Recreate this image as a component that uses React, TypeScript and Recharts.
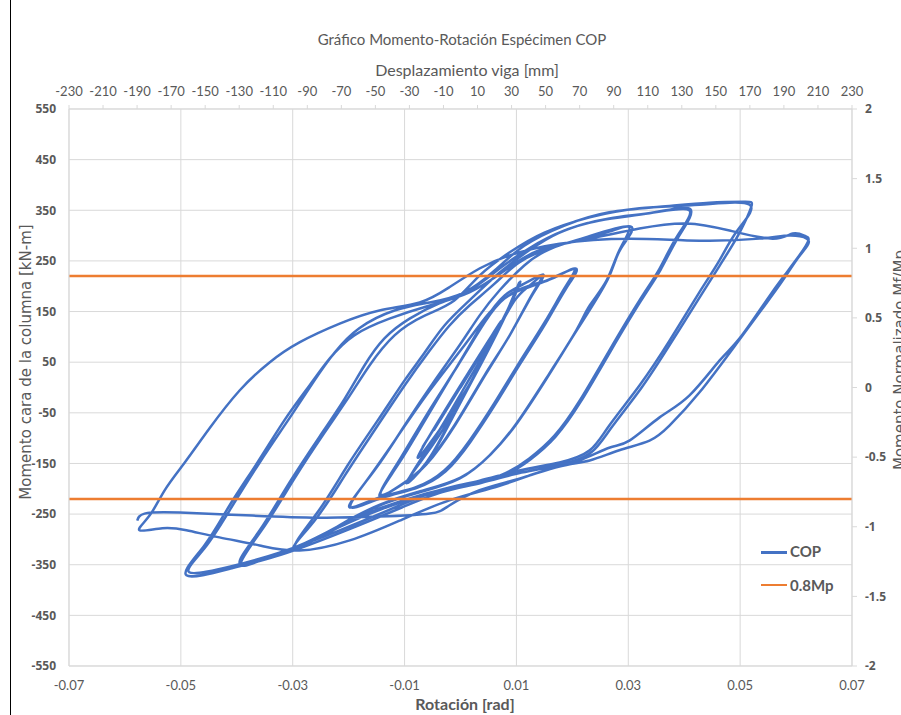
import { LineChart, Line, XAxis, YAxis, CartesianGrid } from "recharts";

// ticks
const rotTicks = [-0.07, -0.05, -0.03, -0.01, 0.01, 0.03, 0.05, 0.07];
const mmTicks = [-230, -210, -190, -170, -150, -130, -110, -90, -70, -50, -30, -10, 10, 30, 50, 70, 90, 110, 130, 150, 170, 190, 210, 230];
const momentTicks = [-550, -450, -350, -250, -150, -50, 50, 150, 250, 350, 450, 550];
const normTicks = [-2, -1.5, -1, -0.5, 0, 0.5, 1, 1.5, 2];

// COP test, [rotation rad, moment kN-m]
const preCycles: [number, number][] = [[0, 0], [0.0052, 93], [-0.0046, -81], [0.0054, 97], [-0.0047, -83], [0.0071, 128], [-0.0068, -118], [0.0072, 130], [-0.0069, -121]];
const loop1a: [number, number][] = [[-0.0002, -26], [0.0052, 83], [0.0088, 162], [0.0105, 207], [0.0082, 148], [0.0038, 49], [-0.0016, -61], [-0.0061, -148], [-0.0097, -188]];
const loop1b: [number, number][] = [[-0.0052, -117], [0.0002, -22], [0.0055, 87], [0.0089, 164], [0.0107, 209], [0.0084, 150], [0.0039, 51], [-0.0014, -59], [-0.0059, -146], [-0.0095, -186]];
const loop2a: [number, number][] = [[-0.0046, -99], [0.0007, 0], [0.0061, 103], [0.0097, 172], [0.0123, 201], [0.0147, 221], [0.0127, 182], [0.0088, 103], [0.0043, 24], [-0.0011, -75], [-0.0064, -154], [-0.0109, -194], [-0.0145, -213]];
const loop2b: [number, number][] = [[-0.0109, -148], [-0.0055, -49], [-0.0002, 49], [0.0043, 132], [0.0079, 182], [0.0114, 205], [0.0148, 223], [0.0129, 184], [0.0089, 105], [0.0045, 26], [-0.0009, -73], [-0.0061, -152], [-0.0105, -192], [-0.0143, -211]];
const loop3a: [number, number][] = [[-0.0113, -150], [-0.0059, -51], [-0.0005, 43], [0.0043, 128], [0.0079, 176], [0.0123, 201], [0.0168, 217], [0.0204, 235], [0.0186, 196], [0.015, 128], [0.0105, 49], [0.0061, -30], [0.0016, -105], [-0.0029, -164], [-0.0082, -198], [-0.0145, -217], [-0.0198, -237]];
const loop3b: [number, number][] = [[-0.0172, -190], [-0.0114, -99], [-0.0055, -6], [0.0004, 79], [0.0052, 148], [0.0097, 188], [0.015, 209], [0.0206, 235], [0.0188, 194], [0.0152, 126], [0.0107, 47], [0.0063, -32], [0.0018, -107], [-0.0027, -166], [-0.008, -199], [-0.0143, -219], [-0.0197, -235]];
const loop4a: [number, number][] = [[-0.0154, -164], [-0.01, -75], [-0.0046, 14], [-0.0002, 83], [0.0034, 142], [0.007, 192], [0.0114, 241], [0.0159, 273], [0.0218, 294], [0.0266, 308], [0.0302, 316], [0.0284, 271], [0.0261, 211], [0.0231, 162], [0.0207, 113], [0.0159, 28], [0.01, -71], [0.0052, -134], [-0.0002, -180], [-0.0073, -207], [-0.0145, -233], [-0.0216, -273], [-0.0297, -318]];
const loop4b: [number, number][] = [[-0.0261, -263], [-0.0207, -174], [-0.0154, -85], [-0.01, 4], [-0.0055, 73], [-0.002, 122], [0.0016, 162], [0.0061, 205], [0.0105, 247], [0.0159, 275], [0.0222, 296], [0.0304, 318], [0.0286, 273], [0.0263, 213], [0.0209, 115], [0.0161, 30], [0.0102, -69], [0.0054, -132], [0, -178], [-0.0072, -205], [-0.0143, -231], [-0.0215, -271], [-0.0295, -316]];
const loop5a: [number, number][] = [[-0.0256, -247], [-0.0202, -154], [-0.0148, -65], [-0.01, 14], [-0.0064, 69], [-0.0029, 122], [0.0016, 172], [0.007, 227], [0.0123, 271], [0.0177, 306], [0.0249, 330], [0.0338, 344], [0.0409, 350], [0.0388, 300], [0.0356, 235], [0.032, 172], [0.0266, 73], [0.0213, -26], [0.0168, -95], [0.0123, -140], [0.007, -174], [-0.0002, -194], [-0.0073, -213], [-0.0145, -239], [-0.0216, -273], [-0.0288, -312], [-0.035, -336], [-0.0395, -346]];
const loop5b: [number, number][] = [[-0.0359, -282], [-0.0306, -188], [-0.0252, -97], [-0.0207, -22], [-0.0172, 43], [-0.0136, 97], [-0.0091, 136], [-0.0038, 166], [0.0016, 192], [0.007, 235], [0.0123, 275], [0.0186, 310], [0.0266, 334], [0.0347, 346], [0.0411, 352], [0.039, 298], [0.0358, 233], [0.0322, 170], [0.0268, 71], [0.0215, -28], [0.017, -97], [0.0125, -142], [0.0072, -176], [0, -196], [-0.0072, -215], [-0.0143, -241], [-0.0215, -275], [-0.0286, -314], [-0.0349, -338], [-0.0393, -348]];
const loop6a: [number, number][] = [[-0.035, -273], [-0.0297, -180], [-0.0243, -89], [-0.0198, -16], [-0.0163, 43], [-0.0118, 103], [-0.0064, 142], [-0.0011, 172], [0.0034, 221], [0.0088, 267], [0.015, 306], [0.0231, 336], [0.032, 354], [0.0427, 361], [0.0517, 361], [0.0495, 310], [0.0463, 251], [0.0427, 188], [0.0374, 93], [0.032, 4], [0.0266, -75], [0.0231, -124], [0.0177, -148], [0.0105, -164], [0.0034, -184], [-0.0038, -203], [-0.0109, -233], [-0.0216, -282], [-0.0324, -326], [-0.0413, -354], [-0.0485, -365]];
const loop6b: [number, number][] = [[-0.0458, -318], [-0.0413, -243], [-0.0359, -148], [-0.0306, -61], [-0.0261, 14], [-0.0225, 69], [-0.0181, 117], [-0.0118, 152], [-0.0055, 168], [0.0007, 188], [0.0061, 231], [0.0114, 280], [0.0186, 320], [0.0266, 346], [0.0356, 357], [0.0445, 365], [0.0508, 367], [0.052, 357], [0.0499, 306], [0.0467, 247], [0.0431, 184], [0.0377, 89], [0.0324, 0], [0.027, -79], [0.0234, -128], [0.0181, -152], [0.0109, -168], [0.0038, -188], [-0.0034, -207], [-0.0105, -237], [-0.0213, -286], [-0.032, -330], [-0.0409, -357], [-0.049, -371]];
const loop7a: [number, number][] = [[-0.0458, -312], [-0.0413, -233], [-0.0363, -148], [-0.0315, -65], [-0.027, 4], [-0.0234, 57], [-0.019, 103], [-0.0127, 136], [-0.0055, 162], [0.0016, 188], [0.0079, 231], [0.0141, 271], [0.0231, 294], [0.032, 314], [0.0404, 324], [0.0481, 310], [0.0558, 294], [0.0594, 304], [0.0615, 300], [0.0622, 290], [0.0606, 261], [0.0579, 221], [0.0547, 172], [0.0499, 97], [0.0463, 53], [0.0409, -16], [0.0356, -59], [0.0302, -105], [0.0266, -119], [0.0213, -144], [0.015, -164], [0.007, -194], [-0.002, -223], [-0.0109, -263], [-0.0198, -302], [-0.0288, -322], [-0.0359, -312], [-0.0431, -296], [-0.049, -282], [-0.0533, -278], [-0.0574, -282]];
const loop7b: [number, number][] = [[-0.0556, -253], [-0.0529, -203], [-0.0493, -148], [-0.0449, -81], [-0.0395, -6], [-0.0342, 49], [-0.0288, 89], [-0.0216, 126], [-0.0145, 152], [-0.0073, 168], [-0.002, 198], [0.0034, 235], [0.0088, 261], [0.0177, 284], [0.0302, 294], [0.0427, 290], [0.0535, 294], [0.0588, 300], [0.0619, 294], [0.062, 280], [0.0603, 255], [0.0576, 211], [0.0544, 162], [0.0495, 89], [0.0427, -10], [0.0374, -75], [0.0338, -105], [0.0284, -124], [0.0231, -144], [0.0177, -156], [0.0105, -180], [0.0034, -203], [-0.002, -233], [-0.0055, -249], [-0.0145, -255], [-0.0252, -257], [-0.0372, -253], [-0.0502, -247], [-0.0565, -249], [-0.0578, -263]];

// 0.8Mp limit, on the normalised axis
const limitNorm = 0.8;
const limitSpan = [-230, 230];

const copData = [
  ...preCycles, ...loop1a, ...loop1b, ...loop2a, ...loop2b, ...loop3a, ...loop3b,
  ...loop4a, ...loop4b, ...loop5a, ...loop5b, ...loop6a, ...loop6b, ...loop7a, ...loop7b,
].map(([rot, m]) => ({ rot, m }));

const limitData = [
  { mm: limitSpan[0], norm: limitNorm },
  { mm: limitSpan[1], norm: limitNorm },
  { mm: limitSpan[1], norm: null },
  { mm: limitSpan[0], norm: -limitNorm },
  { mm: limitSpan[1], norm: -limitNorm },
];

const grey = "#595959";
const calibriLike = "Lato, 'Open Sans', sans-serif";
const sideTick = { fill: grey, fontSize: 12, fontFamily: "'Open Sans', sans-serif", fontWeight: 700 };
const flatTick = { fill: grey, fontSize: 13, fontFamily: calibriLike };

export default function App() {
  return (
    <div style={{ position: "relative", width: 901, height: 715, background: "#fff", overflow: "hidden" }}>
      <style>{`body{margin:0}`}</style>
      <LineChart width={901} height={715} margin={{ top: 79, right: 9, bottom: 19, left: 9 }}>
        <CartesianGrid stroke="#d9d9d9" strokeWidth={1} />
        <XAxis dataKey="rot" type="number" domain={[-0.07, 0.07]} ticks={rotTicks} interval={0} height={30}
          tickLine={false} tickSize={6} tickMargin={9} axisLine={{ stroke: "#d9d9d9" }} tick={flatTick} allowDataOverflow />
        <XAxis xAxisId="top" orientation="top" dataKey="mm" type="number" domain={[-230, 230]} ticks={mmTicks} interval={0} height={30}
          tickSize={4} tickMargin={9} tickLine={{ stroke: "#d9d9d9" }} axisLine={{ stroke: "#d9d9d9" }} tick={flatTick} allowDataOverflow />
        <YAxis type="number" domain={[-550, 550]} ticks={momentTicks} interval={0} width={60}
          tickLine={false} tickSize={6} tickMargin={7} axisLine={{ stroke: "#d9d9d9" }} tick={sideTick} allowDataOverflow />
        <YAxis yAxisId="right" orientation="right" type="number" domain={[-2, 2]} ticks={normTicks} interval={0} width={40}
          tickSize={5} tickMargin={8} tickLine={{ stroke: "#d9d9d9" }} axisLine={{ stroke: "#d9d9d9" }} tick={sideTick} allowDataOverflow />
        <Line data={copData} dataKey="m" type="natural" stroke="#4472C4" strokeWidth={2.5} dot={false} activeDot={false} isAnimationActive={false} />
        <Line data={limitData} xAxisId="top" yAxisId="right" dataKey="norm" type="linear" stroke="#ED7D31" strokeWidth={2.5}
          dot={false} activeDot={false} connectNulls={false} isAnimationActive={false} />
      </LineChart>

      <div style={{ position: "absolute", left: 10, top: 0, width: 1, height: 715, background: "#000" }} />

      <div style={{ position: "absolute", left: 162, width: 600, top: 30, textAlign: "center", fontFamily: calibriLike, fontSize: 15, color: grey }}>
        Gráfico Momento-Rotación Espécimen COP
      </div>
      <div style={{ position: "absolute", left: 167, width: 600, top: 60, textAlign: "center", fontFamily: calibriLike, fontSize: 16, color: grey }}>
        Desplazamiento viga [mm]
      </div>
      <div style={{ position: "absolute", left: 165, width: 600, top: 694, textAlign: "center", fontFamily: calibriLike, fontSize: 16, fontWeight: 700, color: grey }}>
        Rotación [rad]
      </div>
      <div style={{ position: "absolute", left: 26, top: 362, transform: "translate(-50%, -50%) rotate(-90deg)", whiteSpace: "nowrap",
        fontFamily: "'DejaVu Sans', sans-serif", fontSize: 15, color: grey }}>
        Momento cara de la columna [kN-m]
      </div>
      <div style={{ position: "absolute", left: 900, top: 360, transform: "translate(-50%, -50%) rotate(-90deg)", whiteSpace: "nowrap",
        fontFamily: "'DejaVu Sans', sans-serif", fontSize: 15, color: grey }}>
        Momento Normalizado Mf/Mp
      </div>

      <div style={{ position: "absolute", left: 761, top: 551, width: 26, height: 3, background: "#4472C4" }} />
      <div style={{ position: "absolute", left: 790, top: 542, fontFamily: calibriLike, fontSize: 15, fontWeight: 700, color: grey }}>COP</div>
      <div style={{ position: "absolute", left: 761, top: 584, width: 26, height: 2, background: "#ED7D31" }} />
      <div style={{ position: "absolute", left: 790, top: 576, fontFamily: calibriLike, fontSize: 15, fontWeight: 700, color: grey }}>0.8Mp</div>
    </div>
  );
}
